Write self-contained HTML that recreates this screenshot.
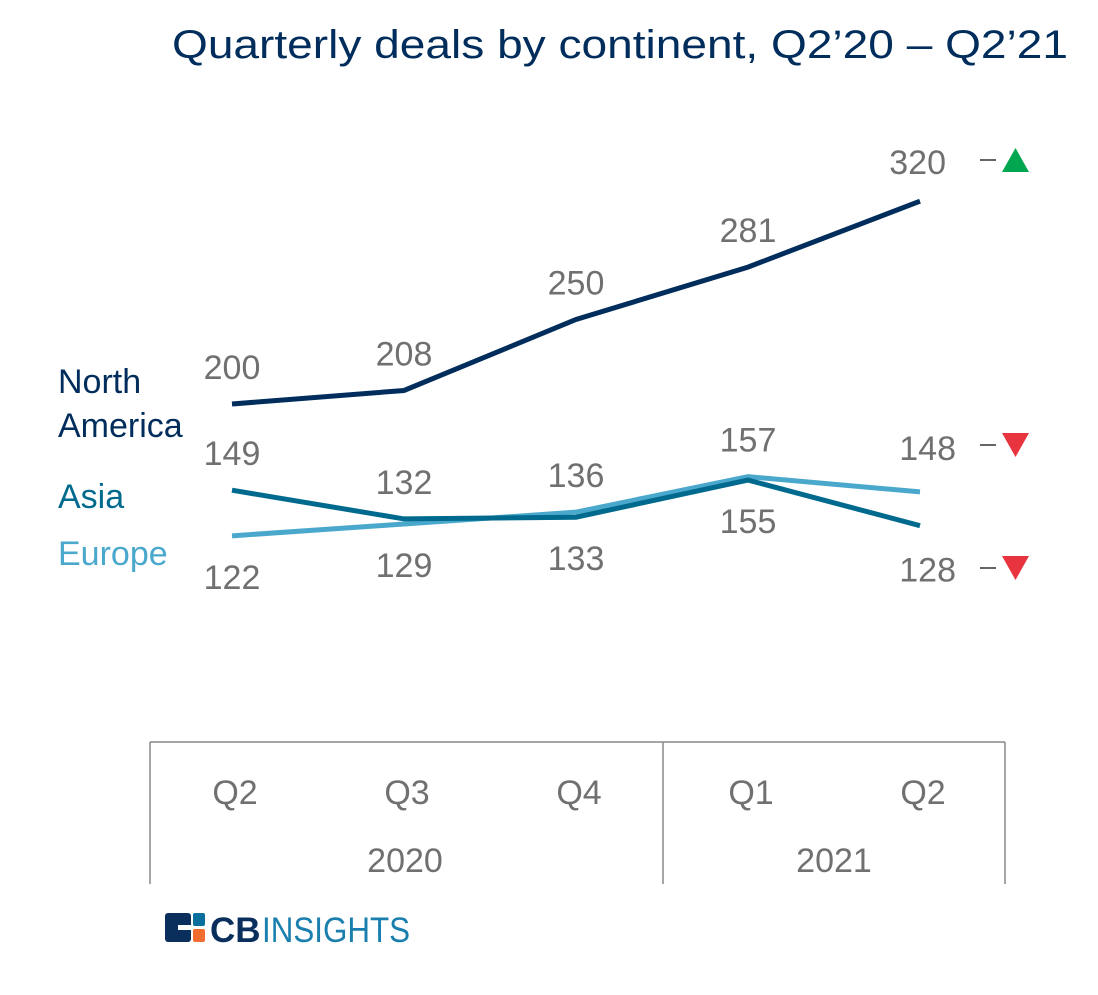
<!DOCTYPE html>
<html><head><meta charset="utf-8"><style>
body{margin:0;background:#fff;width:1098px;height:990px;overflow:hidden;font-family:"Liberation Sans",sans-serif}
</style></head><body>
<svg width="1098" height="990" xmlns="http://www.w3.org/2000/svg">
<text x="172" y="58" font-size="40" fill="#002d5c" textLength="896" lengthAdjust="spacingAndGlyphs">Quarterly deals by continent, Q2’20 – Q2’21</text>
<g id="plot"></g>
<g stroke="#888" stroke-width="1.5">
<line x1="150" y1="742" x2="1005" y2="742"/><line x1="150" y1="742" x2="150" y2="884"/>
<line x1="663" y1="742" x2="663" y2="884"/><line x1="1005" y1="742" x2="1005" y2="884"/>
</g>
<g id="xlabels" font-size="34" fill="#707070" text-anchor="middle"></g>
<text x="405" y="872" text-anchor="middle" font-size="34" fill="#707070">2020</text>
<text x="834" y="872" text-anchor="middle" font-size="34" fill="#707070">2021</text>
<text x="58" y="393" font-size="34" fill="#002d5c">North</text>
<text x="58" y="437" font-size="34" fill="#002d5c">America</text>
<text x="58" y="508" font-size="34" fill="#006a8e">Asia</text>
<text x="58" y="565" font-size="34" fill="#4aa8cc">Europe</text>
<g><line x1="980" y1="160" x2="996" y2="160" stroke="#666" stroke-width="2"/><polygon points="1002,172 1029,172 1015.5,148" fill="#00a650"/></g>
<g><line x1="980" y1="445" x2="996" y2="445" stroke="#666" stroke-width="2"/><polygon points="1002,433 1029,433 1015.5,457" fill="#e8343f"/></g>
<g><line x1="980" y1="568" x2="996" y2="568" stroke="#666" stroke-width="2"/><polygon points="1002,556 1029,556 1015.5,580" fill="#e8343f"/></g>
<g>
<rect x="165" y="913" width="26" height="29" rx="3" fill="#0a2f5c"/>
<rect x="193" y="913" width="12" height="13" rx="2" fill="#0a6f9c"/>
<rect x="193" y="929" width="12" height="13" rx="2" fill="#f26b2f"/>
<rect x="178" y="925" width="15" height="5" fill="#fff"/>
<text x="210" y="942" font-size="35" font-weight="bold" fill="#0a2f5c">CB</text>
<text x="262" y="942" font-size="35" fill="#1a7fae" textLength="148" lengthAdjust="spacingAndGlyphs">INSIGHTS</text>
</g>
</svg>
<script>
const categories=["Q2","Q3","Q4","Q1","Q2"];
const northAmerica=[200,208,250,281,320];
const asia=[149,132,133,155,128];
const europe=[122,129,136,157,148];
const xs=i=>232+i*172;
const ys=v=>742-v*1.69;
const NS="http://www.w3.org/2000/svg";
const plot=document.getElementById('plot');
function line(d,color,name){
 const p=document.createElementNS(NS,'polyline');
 p.setAttribute('points',d.map((v,i)=>xs(i)+','+ys(v)).join(' '));
 p.setAttribute('fill','none');p.setAttribute('stroke',color);p.setAttribute('stroke-width','5');
 
 
 plot.appendChild(p);
}
function lab(x,y,t,name,anchor){
 const e=document.createElementNS(NS,'text');
 e.setAttribute('x',x);e.setAttribute('y',y);e.setAttribute('font-size','34');e.setAttribute('fill','#707070');
 e.setAttribute('text-anchor',anchor||'middle');e.textContent=t;
 
 
 plot.appendChild(e);
}
line(europe,'#4aa8cc','europe-line');
line(asia,'#006a8e','asia-line');
line(northAmerica,'#002d5c','north-america-line');
northAmerica.forEach((v,i)=>{
 if(i===4) lab(946,ys(v)-27,v,'na-value','end'); else lab(xs(i),ys(v)-25,v,'na-value');
});
asia.forEach((a,i)=>{
 const e=europe[i];
 if(i===4){lab(956,ys(e)-32,e,'europe-value','end');lab(956,ys(a)+56,a,'asia-value','end');return;}
 const hi=Math.max(a,e),lo=Math.min(a,e);
 lab(xs(i),ys(hi)-25,hi,'value-upper');
 lab(xs(i),ys(lo)+53,lo,'value-lower');
});
const xl=document.getElementById('xlabels');
categories.forEach((c,i)=>{
 const e=document.createElementNS(NS,'text');
 e.setAttribute('x',xs(i)+3);e.setAttribute('y',804);e.textContent=c;
 
 
 xl.appendChild(e);
});
</script>
</body></html>
